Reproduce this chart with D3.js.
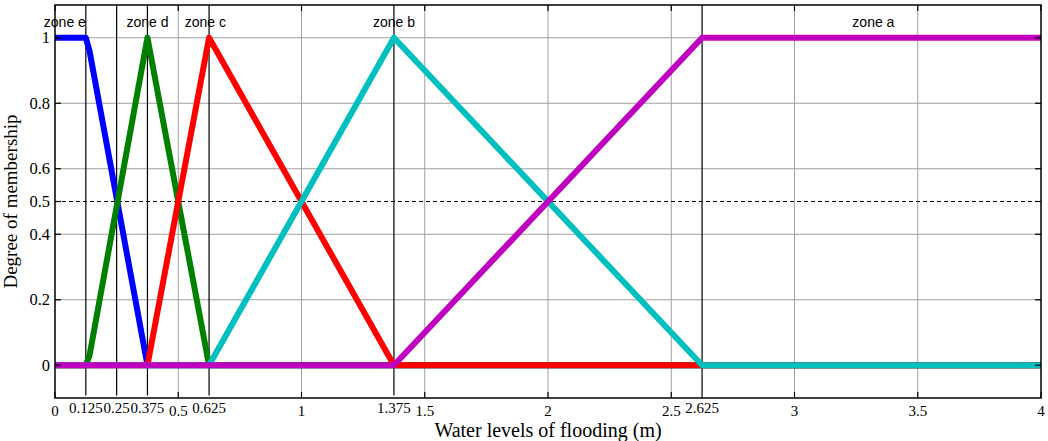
<!DOCTYPE html>
<html>
<head>
<meta charset="utf-8">
<script src="https://cdn.jsdelivr.net/npm/d3@7"></script>
<style>
  html, body { margin: 0; padding: 0; background: #fff; }
  svg { display: block; }
</style>
</head>
<body>
<svg id="chart" width="1048" height="441"></svg>
<script>
// ---------------- data ----------------
const majorTicks = [0, 0.5, 1, 1.5, 2, 2.5, 3, 3.5, 4];
const majorTickLabels = ["0", "0.5", "1", "1.5", "2", "2.5", "3", "3.5", "4"];
const boundaryTicks = [0.125, 0.25, 0.375, 0.625, 1.375, 2.625];
const boundaryTickLabels = ["0.125", "0.25", "0.375", "0.625", "1.375", "2.625"];
const yGridTicks = [0, 0.2, 0.4, 0.6, 0.8, 1];
const yTickValues = [0, 0.2, 0.4, 0.5, 0.6, 0.8, 1];
const yTickLabels = ["0", "0.2", "0.4", "0.5", "0.6", "0.8", "1"];

const zoneNames = ["zone e", "zone d", "zone c", "zone b", "zone a"];
const zoneLabelX = [0.04, 0.375, 0.61, 1.375, 3.32];
const zoneColors = ["#0000ff", "#008000", "#ff0000", "#00bfbf", "#bf00bf"];

const zoneE_x = [0, 0.125, 0.14, 0.375, 4];
const zoneE_y = [1, 1, 0.96, 0, 0];
const zoneD_x = [0, 0.125, 0.14, 0.375, 0.625, 4];
const zoneD_y = [0, 0, 0.03, 1, 0, 0];
const zoneC_x = [0, 0.375, 0.625, 0.64, 1.375, 4];
const zoneC_y = [0, 0, 1, 0.98, 0, 0];
const zoneB_x = [0, 0.625, 1.375, 2.625, 4];
const zoneB_y = [0, 0, 1, 0, 0];
const zoneA_x = [0, 1.375, 2.625, 4];
const zoneA_y = [0, 0, 1, 1];

const xLabel = "Water levels of flooding (m)";
const yLabel = "Degree of membership";

// ---------------- layout ----------------
const svg = d3.select("#chart");
const L = 55, R = 1041, T = 5, B = 398;
const x = d3.scaleLinear().domain([0, 4]).range([L, R]);
const y = d3.scaleLinear().domain([-0.1, 1.1]).range([B, T]);

const serif = "'Liberation Serif', 'Times New Roman', serif";
const sans = "'Liberation Sans', Arial, sans-serif";

// gridlines
const grid = svg.append("g");
grid.selectAll("line.vg").data(majorTicks.slice(1, -1)).enter().append("line")
  .attr("x1", d => x(d)).attr("x2", d => x(d))
  .attr("y1", T).attr("y2", B)
  .attr("stroke", "#a0a0a0").attr("stroke-width", 1);
grid.selectAll("line.hg").data(yGridTicks).enter().append("line")
  .attr("x1", L).attr("x2", R)
  .attr("y1", d => y(d)).attr("y2", d => y(d))
  .attr("stroke", "#a0a0a0").attr("stroke-width", 1);

// dashed 0.5 line
svg.append("line")
  .attr("x1", L).attr("x2", R).attr("y1", y(0.5)).attr("y2", y(0.5))
  .attr("stroke", "#000").attr("stroke-width", 1.2).attr("stroke-dasharray", "4,3");

// boundary lines (black verticals)
svg.selectAll("line.bd").data(boundaryTicks).enter().append("line")
  .attr("x1", d => x(d)).attr("x2", d => x(d))
  .attr("y1", T).attr("y2", d => d === 2.625 ? B : y(-0.092))
  .attr("stroke", "#000").attr("stroke-width", 1.2);

// series
const series = [
  [zoneE_x, zoneE_y], [zoneD_x, zoneD_y], [zoneC_x, zoneC_y],
  [zoneB_x, zoneB_y], [zoneA_x, zoneA_y]
];
const line = d3.line().x(d => x(d[0])).y(d => y(d[1]));
series.forEach((s, i) => {
  const pts = s[0].map((v, j) => [v, s[1][j]]);
  svg.append("path").datum(pts)
    .attr("d", line)
    .attr("fill", "none")
    .attr("stroke", zoneColors[i])
    .attr("stroke-width", 6)
    .attr("stroke-linejoin", "round");
});

// zone labels
svg.selectAll("text.zone").data(zoneNames).enter().append("text")
  .attr("x", (d, i) => x(zoneLabelX[i]))
  .attr("y", 27)
  .attr("text-anchor", "middle")
  .attr("font-family", sans).attr("font-size", 14)
  .attr("fill", "#000")
  .text(d => d);

// frame
svg.append("rect").attr("x", L).attr("y", T).attr("width", R - L).attr("height", B - T)
  .attr("fill", "none").attr("stroke", "#000").attr("stroke-width", 1.5);

// ticks (inward)
const tk = svg.append("g").attr("stroke", "#000").attr("stroke-width", 1.2);
majorTicks.forEach(v => {
  tk.append("line").attr("x1", x(v)).attr("x2", x(v)).attr("y1", B).attr("y2", B - 6);
  tk.append("line").attr("x1", x(v)).attr("x2", x(v)).attr("y1", T).attr("y2", T + 6);
});
yTickValues.forEach(v => {
  tk.append("line").attr("x1", L).attr("x2", L + 6).attr("y1", y(v)).attr("y2", y(v));
  tk.append("line").attr("x1", R).attr("x2", R - 6).attr("y1", y(v)).attr("y2", y(v));
});

// tick labels
svg.selectAll("text.xmaj").data(majorTicks).enter().append("text")
  .attr("x", d => x(d)).attr("y", 415.5)
  .attr("text-anchor", "middle").attr("font-family", serif).attr("font-size", 15)
  .text((d, i) => majorTickLabels[i]);
svg.selectAll("text.xmin").data(boundaryTicks).enter().append("text")
  .attr("x", d => x(d)).attr("y", 412.5)
  .attr("text-anchor", "middle").attr("font-family", serif).attr("font-size", 15)
  .text((d, i) => boundaryTickLabels[i]);
svg.selectAll("text.ytk").data(yTickValues).enter().append("text")
  .attr("x", 50).attr("y", d => y(d)).attr("dy", "0.33em")
  .attr("text-anchor", "end").attr("font-family", serif).attr("font-size", 16.5)
  .text((d, i) => yTickLabels[i]);

// axis titles
svg.append("text").attr("x", (L + R) / 2).attr("y", 437)
  .attr("text-anchor", "middle").attr("font-family", serif).attr("font-size", 20)
  .text(xLabel);
svg.append("text").attr("transform", `translate(16.5, ${(T + B) / 2}) rotate(-90)`)
  .attr("text-anchor", "middle").attr("font-family", serif).attr("font-size", 19)
  .text(yLabel);
</script>
</body>
</html>
